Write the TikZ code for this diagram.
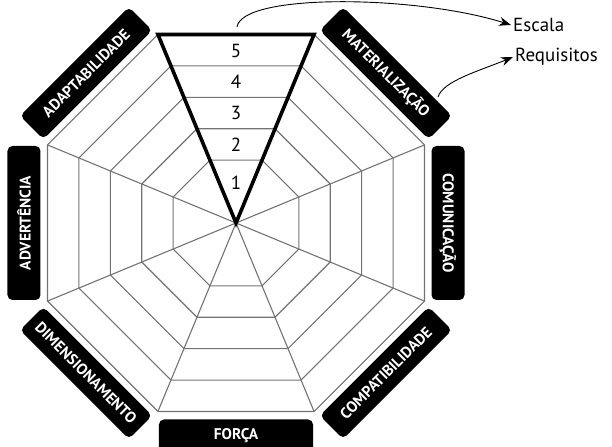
\documentclass[tikz,border=0pt]{standalone}
\usepackage{fontspec}
\setmainfont{PT Sans}[BoldFont={PT Sans Bold}]
\usepackage{tikz}
\usetikzlibrary{positioning, arrows.meta}

\begin{document}
\begin{tikzpicture}[x=1bp, y=1bp,
    rotulo/.style={fill=black, text=white, rounded corners=5bp, minimum width=154bp, minimum height=33bp, inner sep=0pt, font=\bfseries\fontsize{15.5}{15.5}\selectfont},
    grade/.style={draw=black!55, line width=1.1bp},
    nivel/.style={font=\fontsize{19}{19}\selectfont},
    legenda/.style={anchor=west, inner sep=2bp, font=\fontsize{19}{19}\selectfont},
    seta/.style={-{Stealth[length=12bp, width=9bp]}, line width=0.9bp}]
    \useasboundingbox (-236,-224) rectangle (376,223);

    % aneis e raios
    \foreach \r in {68,102,136,170,204}
        \draw[grade] (22.5:\r) -- (67.5:\r) -- (112.5:\r) -- (157.5:\r) -- (202.5:\r) -- (247.5:\r) -- (292.5:\r) -- (337.5:\r) -- cycle;
    \foreach \a in {22.5,67.5,...,337.5}
        \draw[grade] (0,0) -- (\a:204);

    % escala
    \draw[line width=3.6bp, line join=miter] (0,0) -- (67.5:204) -- (112.5:204) -- cycle;
    \node[nivel] (n1) at (0,40) {1};
    \node[nivel] (n2) at (0,78) {2};
    \node[nivel] (n3) at (0,110) {3};
    \node[nivel] (n4) at (0,141) {4};
    \node[nivel] (n5) at (0,172) {5};

    % requisitos
    \node[rotulo, rotate=-45] (mat) at (45:212) {MATERIALIZAÇÃO};
    \node[rotulo, rotate=-90] (com) at (0:212) {COMUNICAÇÃO};
    \node[rotulo, rotate=45] (cmp) at (-45:212) {COMPATIBILIDADE};
    \node[rotulo] (for) at (-90:213) {FORÇA};
    \node[rotulo, rotate=-45] (dim) at (-135:212) {DIMENSIONAMENTO};
    \node[rotulo, rotate=90] (adv) at (180:212) {ADVERTÊNCIA};
    \node[rotulo, rotate=45] (ada) at (135:212) {ADAPTABILIDADE};

    % legenda
    \node[legenda] (escala) at (275,198) {Escala};
    \node[legenda] (req) at (277,166) {Requisitos};
    \coordinate (esc) at (1,196);
    \coordinate (mat-fim) at (202,126);
    \draw[seta] (esc) .. controls (6,230) and (180,228) .. (escala.west);
    \draw[seta] (mat-fim) .. controls (207,142) and (243,152) .. (req.west);
\end{tikzpicture}
\end{document}
